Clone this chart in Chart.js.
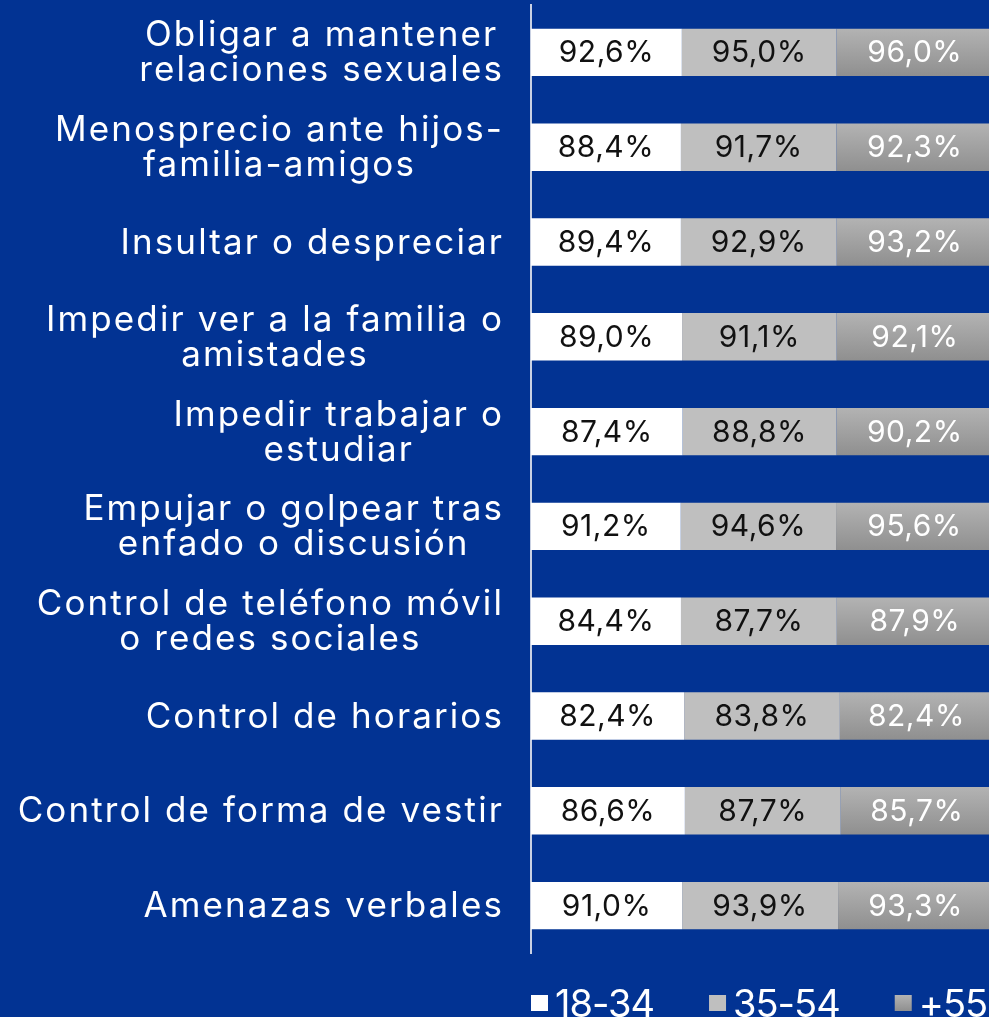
<!DOCTYPE html>
<html><head><meta charset="utf-8">
<script src="https://cdn.jsdelivr.net/npm/chart.js@4.4.1/dist/chart.umd.min.js"></script>
<style>
html,body{margin:0;padding:0;background:#023393;overflow:hidden;width:989px;height:1017px}
#wrap{position:relative;width:989px;height:1017px;overflow:hidden}
canvas{display:block}
</style></head><body>
<div id="wrap"><canvas id="c" width="994" height="1035"></canvas></div>
<script>
const categories = [
  ['Obligar a mantener','relaciones sexuales'],
  ['Menosprecio ante hijos-','familia-amigos'],
  ['Insultar o despreciar'],
  ['Impedir ver a la familia o','amistades'],
  ['Impedir trabajar o','estudiar'],
  ['Empujar o golpear tras','enfado o discusión'],
  ['Control de teléfono móvil','o redes sociales'],
  ['Control de horarios'],
  ['Control de forma de vestir'],
  ['Amenazas verbales']
];
const seriesNames = ['18-34','35-54','+55'];
const values1834 = [92.6, 88.4, 89.4, 89.0, 87.4, 91.2, 84.4, 82.4, 86.6, 91.0];
const values3554 = [95.0, 91.7, 92.9, 91.1, 88.8, 94.6, 87.7, 83.8, 87.7, 93.9];
const values55   = [96.0, 92.3, 93.2, 92.1, 90.2, 95.6, 87.9, 82.4, 85.7, 93.3];

const BG = '#023393';
const FONT = 'Inter';
const rawSeries = [values1834, values3554, values55];
// 100% stacked: each bar's share of the row total
const totals = values1834.map((v, i) => v + values3554[i] + values55[i]);
const shares = rawSeries.map(s => s.map((v, i) => v / totals[i] * 100));

function darkGrad(ctx, y0, y1) {
  const g = ctx.createLinearGradient(0, y0, 0, y1);
  g.addColorStop(0, '#b3b3b3');
  g.addColorStop(1, '#8f8f8f');
  return g;
}
function darkFill(c) {
  const chart = c.chart;
  const ys = chart.scales && chart.scales.y;
  if (!ys || c.dataIndex === undefined || !chart.chartArea) return '#a0a0a0';
  const y = ys.getPixelForValue(c.dataIndex);
  return darkGrad(chart.ctx, y - 24, y + 24);
}

const bgPlugin = {
  id: 'bg',
  beforeDraw(chart) {
    const ctx = chart.ctx;
    ctx.save();
    ctx.fillStyle = BG;
    ctx.fillRect(0, 0, chart.width, chart.height);
    ctx.restore();
  }
};

const labelsPlugin = {
  id: 'rowLabels',
  afterDraw(chart) {
    const ctx = chart.ctx;
    const ys = chart.scales.y;
    ctx.save();
    ctx.font = '35px ' + FONT;
    ctx.letterSpacing = '2.1px';
    ctx.fillStyle = '#ffffff';
    ctx.textAlign = 'center';
    ctx.textBaseline = 'middle';
    const right = 504, lh = 35;
    chart.data.labels.forEach((lines, i) => {
      const y = ys.getPixelForValue(i);
      const w = Math.max(...lines.map(l => ctx.measureText(l).width));
      const cx = right - w / 2;
      const y0 = y - (lines.length - 1) * lh / 2;
      lines.forEach((l, k) => ctx.fillText(l, cx, y0 + k * lh + 1));
    });
    ctx.restore();
  }
};

const valuesPlugin = {
  id: 'barValues',
  afterDatasetsDraw(chart) {
    const ctx = chart.ctx;
    ctx.save();
    ctx.font = '30px ' + FONT;
    ctx.letterSpacing = '0.5px';
    ctx.textAlign = 'center';
    ctx.textBaseline = 'middle';
    chart.data.datasets.forEach((ds, di) => {
      const meta = chart.getDatasetMeta(di);
      ctx.fillStyle = di === 2 ? '#ffffff' : '#111111';
      meta.data.forEach((el, i) => {
        const p = el.getProps(['x', 'y', 'base'], true);
        const txt = ds.raw[i].toFixed(1).replace('.', ',') + '%';
        ctx.fillText(txt, (p.x + p.base) / 2, p.y + 1);
      });
    });
    ctx.restore();
  }
};

const legendPlugin = {
  id: 'customLegend',
  afterDraw(chart) {
    const ctx = chart.ctx;
    ctx.save();
    ctx.font = '38px ' + FONT;
    ctx.letterSpacing = '-1px';
    ctx.textBaseline = 'alphabetic';
    ctx.textAlign = 'left';
    let x = 531;
    const boxTop = 995, boxH = 16, boxW = 17, baseY = 1017;
    chart.data.datasets.forEach((ds, di) => {
      ctx.fillStyle = di === 2 ? darkGrad(ctx, boxTop, boxTop + boxH) : ds.legendColor;
      ctx.fillRect(x, boxTop, boxW, boxH);
      x += boxW + 7;
      ctx.fillStyle = '#ffffff';
      ctx.fillText(ds.label, x, baseY);
      x += ctx.measureText(ds.label).width + 55;
    });
    ctx.restore();
  }
};

new Chart(document.getElementById('c'), {
  type: 'bar',
  data: {
    labels: categories,
    datasets: [
      { label: seriesNames[0], data: shares[0], raw: values1834, backgroundColor: '#ffffff', legendColor: '#ffffff' },
      { label: seriesNames[1], data: shares[1], raw: values3554, backgroundColor: '#bfbfbf', legendColor: '#bfbfbf' },
      { label: seriesNames[2], data: shares[2], raw: values55, backgroundColor: darkFill, legendColor: '#a0a0a0' }
    ]
  },
  options: {
    indexAxis: 'y',
    responsive: false,
    animation: false,
    devicePixelRatio: 1,
    layout: { padding: { left: 531, right: 1, top: 5, bottom: 82 } },
    datasets: { bar: { categoryPercentage: 1, barPercentage: 0.5, borderWidth: 0 } },
    scales: {
      x: { stacked: true, min: 0, max: 100, display: false },
      y: {
        stacked: true,
        ticks: { display: false },
        grid: { display: false, drawTicks: false },
        border: { display: true, color: '#c9d1e3', width: 2 }
      }
    },
    plugins: { legend: { display: false }, tooltip: { enabled: false } }
  },
  plugins: [bgPlugin, valuesPlugin, labelsPlugin, legendPlugin]
});
</script>
</body></html>
